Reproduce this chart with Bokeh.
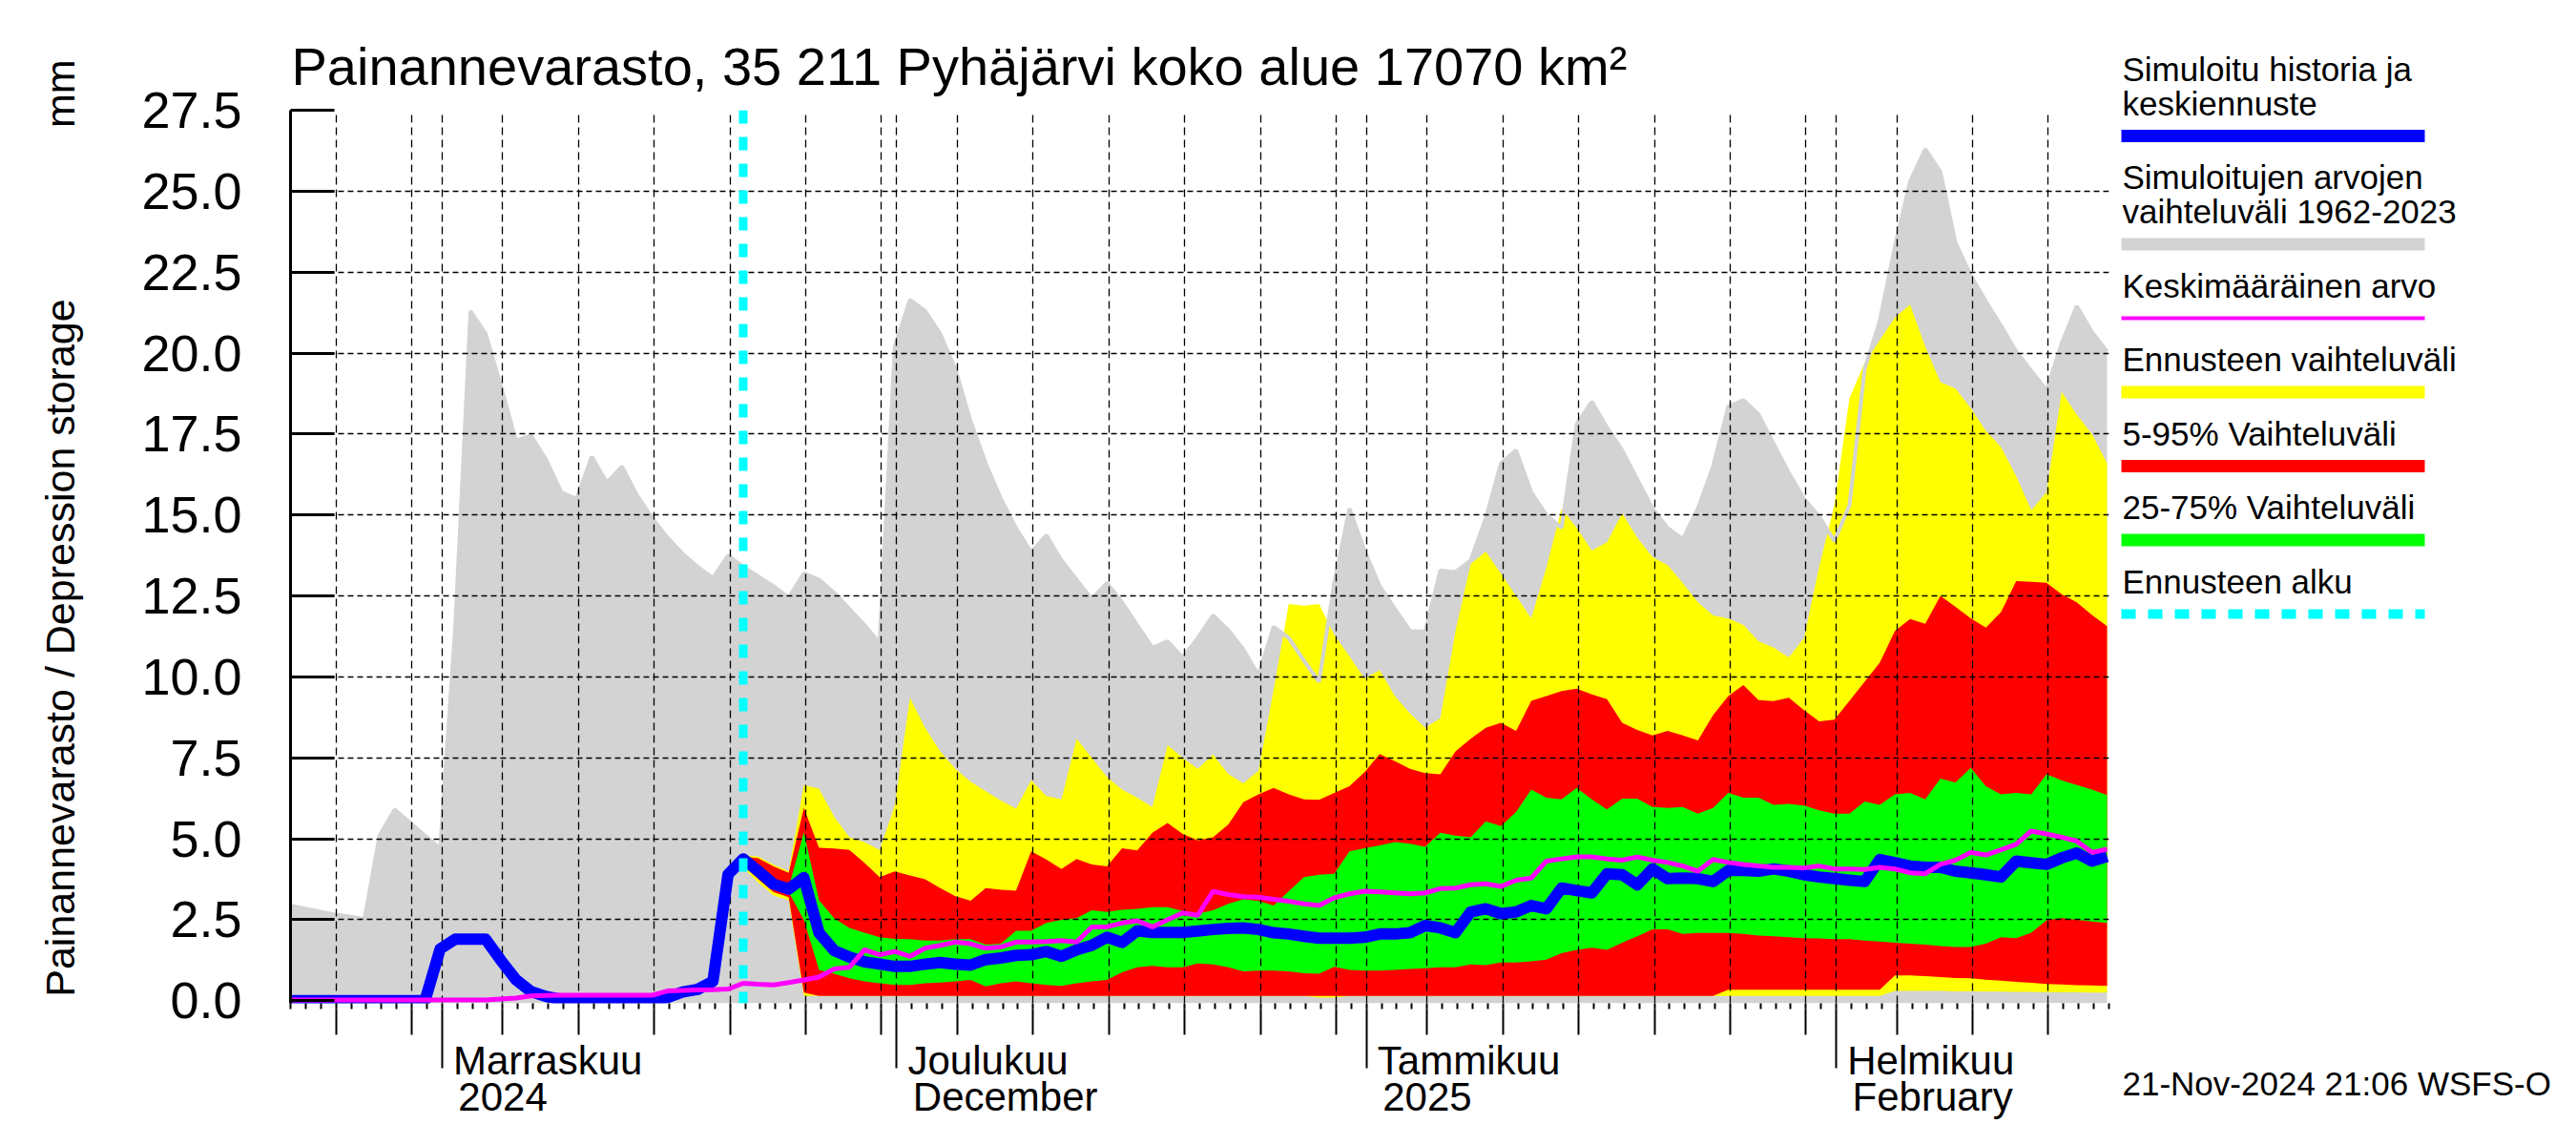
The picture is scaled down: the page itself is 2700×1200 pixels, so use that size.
import numpy as np
import pandas as pd
from bokeh.plotting import figure
from bokeh.models import (Range1d, FixedTicker, LinearAxis, Span,
                          NumeralTickFormatter, CustomJSTickFormatter)
from bokeh.layouts import row
from bokeh.embed import file_html
from bokeh.resources import INLINE
from bokeh.core.properties import value

FONT = "Liberation Sans"

# ---------------- data (daily values, 21:00 each day) ----------------
hist_start = "2024-10-21 21:00"      # first daily value of history series
forecast_start = "2024-11-20 21:00"  # first value of the ensemble forecast

# upper limit of simulated values 1962-2023 (grey band)
hist_max = [2.95, 2.85, 2.76, 2.67, 2.6, 2.52, 5.1, 5.9, 5.5, 5.1, 4.7,
            11.6, 21.3, 20.6, 19.0, 17.3, 17.45, 16.7, 15.7, 15.5, 16.8,
            16.0, 16.5, 15.6, 14.9, 14.3, 13.8, 13.4, 13.05, 13.75, 13.4,
            13.1, 12.8, 12.45, 13.2, 13.0, 12.6, 12.1, 11.6, 11.05, 20.2,
            21.65, 21.3, 20.6, 19.5, 17.9, 16.6, 15.5, 14.6, 13.85, 14.38,
            13.6, 13.0, 12.4, 12.9, 12.3, 11.6, 10.9, 11.1, 10.6, 11.2,
            11.9, 11.45, 10.85, 10.05, 11.55, 11.2, 10.5, 9.85, 12.9, 15.2,
            13.9, 12.8, 12.1, 11.42, 11.4, 13.28, 13.24, 13.6, 14.9, 16.6,
            17.0, 15.7, 15.0, 14.6, 17.8, 18.5, 17.7, 17.0, 16.1, 15.2,
            14.6, 14.25, 15.2, 16.5, 18.35, 18.55, 18.1, 17.2, 16.3, 15.5,
            14.95, 14.2, 15.3, 19.5, 21.0, 23.3, 25.3, 26.3, 25.6, 23.4,
            22.4, 21.6, 20.85, 20.05, 19.45, 18.85, 20.3, 21.45, 20.65, 20.05]

# simulated history and mean forecast (blue)
sim_mean = [0.0, 0.0, 0.0, 0.0, 0.0, 0.0, 0.0, 0.0, 0.0, 0.0,
            1.6, 1.9, 1.9, 1.9, 1.25, 0.65, 0.28, 0.13, 0.04, 0.0, 0.0,
            0.0, 0.0, 0.0, 0.0, 0.1, 0.27, 0.35, 0.6, 3.9, 4.38,
            4.0, 3.6, 3.45, 3.8, 2.1, 1.55, 1.35, 1.2, 1.13, 1.06,
            1.06, 1.13, 1.18, 1.13, 1.1, 1.27, 1.32, 1.4, 1.42, 1.52,
            1.37, 1.57, 1.71, 1.96, 1.8, 2.16, 2.11, 2.11, 2.11, 2.15,
            2.2, 2.23, 2.25, 2.2, 2.1, 2.06, 1.99, 1.93, 1.93, 1.93,
            1.96, 2.06, 2.06, 2.1, 2.32, 2.25, 2.1, 2.74, 2.84, 2.69,
            2.74, 2.94, 2.84, 3.48, 3.4, 3.33, 3.92, 3.89, 3.58, 4.07,
            3.77, 3.79, 3.77, 3.68, 4.02, 4.02, 4.0, 4.07, 4.0, 3.89,
            3.82, 3.77, 3.72, 3.68, 4.36, 4.26, 4.16, 4.12, 4.12, 4.0,
            3.95, 3.89, 3.82, 4.31, 4.26, 4.21, 4.41, 4.56, 4.31, 4.46]

# long-term mean (magenta)
clim_mean = [0.02, 0.02, 0.02, 0.02, 0.02, 0.02, 0.02, 0.02, 0.02, 0.02,
             0.02, 0.02, 0.02, 0.02, 0.05, 0.08, 0.15, 0.16, 0.17, 0.17, 0.17,
             0.17, 0.17, 0.17, 0.17, 0.3, 0.32, 0.33, 0.34, 0.36, 0.54,
             0.51, 0.49, 0.56, 0.64, 0.73, 0.98, 1.03, 1.57, 1.42, 1.52,
             1.37, 1.62, 1.71, 1.81, 1.76, 1.62, 1.66, 1.81, 1.81, 1.83,
             1.86, 1.81, 2.28, 2.28, 2.4, 2.47, 2.28, 2.5, 2.71, 2.64,
             3.38, 3.28, 3.21, 3.2, 3.13, 3.07, 2.99, 2.94, 3.18, 3.3,
             3.38, 3.36, 3.33, 3.3, 3.33, 3.46, 3.48, 3.58, 3.61, 3.53,
             3.72, 3.79, 4.31, 4.38, 4.44, 4.44, 4.38, 4.34, 4.44, 4.34,
             4.27, 4.16, 4.0, 4.36, 4.27, 4.21, 4.16, 4.12, 4.12, 4.1,
             4.16, 4.07, 4.07, 4.05, 4.12, 4.07, 3.95, 3.92, 4.21, 4.34,
             4.58, 4.5, 4.66, 4.83, 5.24, 5.15, 5.05, 4.93, 4.58, 4.68]

# ensemble forecast statistics, from forecast_start
ens_max = [4.5, 4.45, 4.2, 4.0, 6.66, 6.55, 5.68, 5.05, 4.9, 4.66,
           6.03, 9.36, 8.43, 7.7, 7.16, 6.76, 6.47, 6.18, 5.93, 6.81,
           6.32, 6.22, 8.09, 7.5, 6.91, 6.52, 6.27, 5.98, 7.89, 7.5,
           7.16, 7.6, 7.01, 6.71, 7.1, 9.6, 12.25, 12.2, 12.25, 11.3,
           10.64, 9.95, 10.2, 9.41, 8.87, 8.43, 8.72, 11.42, 13.48, 13.87,
           13.19, 12.5, 11.81, 13.38, 15.2, 14.6, 13.9, 14.16, 15.05, 14.3,
           13.7, 13.45, 12.9, 12.3, 11.9, 11.8, 11.6, 11.1, 10.9, 10.6,
           11.2, 13.4, 15.3, 18.6, 19.7, 20.4, 21.1, 21.5, 20.2, 19.1,
           18.9, 18.3, 17.6, 17.1, 16.2, 15.15, 15.7, 18.8, 18.1, 17.5, 16.6]
ens_p95 = [4.45, 4.4, 4.15, 3.95, 5.95, 4.72, 4.7, 4.66, 4.26, 3.82,
           3.99, 3.87, 3.75, 3.48, 3.23, 3.09, 3.48, 3.43, 3.4, 4.61,
           4.36, 4.07, 4.38, 4.21, 4.15, 4.71, 4.64, 5.19, 5.49, 5.15,
           4.95, 5.05, 5.44, 6.13, 6.37, 6.57, 6.37, 6.22, 6.2, 6.42,
           6.62, 7.06, 7.62, 7.4, 7.16, 7.03, 6.99, 7.7, 8.09, 8.43,
           8.58, 8.33, 9.26, 9.41, 9.56, 9.64, 9.46, 9.31, 8.58, 8.36,
           8.19, 8.33, 8.19, 8.04, 8.82, 9.41, 9.75, 9.28, 9.25, 9.36,
           8.97, 8.63, 8.68, 9.26, 9.85, 10.44, 11.42, 11.79, 11.64, 12.5,
           12.16, 11.81, 11.52, 12.0, 12.96, 12.94, 12.91, 12.55, 12.3, 11.91, 11.57]
ens_p75 = [4.45, 4.05, 3.65, 3.5, 5.2, 3.1, 2.55, 2.25, 2.1, 1.96,
           1.91, 1.9, 1.86, 1.86, 1.9, 1.9, 1.73, 1.76, 2.16, 2.16,
           2.4, 2.5, 2.55, 2.79, 2.74, 2.81, 2.84, 2.89, 2.89, 2.77,
           2.69, 2.79, 2.99, 3.13, 3.08, 2.94, 3.38, 3.82, 3.89, 3.92,
           4.61, 4.71, 4.8, 4.9, 4.85, 4.75, 5.19, 5.1, 5.05, 5.54,
           5.39, 5.83, 6.52, 6.27, 6.22, 6.57, 6.22, 5.91, 6.24, 6.24,
           5.98, 5.95, 5.98, 5.78, 5.95, 6.42, 6.27, 6.27, 6.05, 6.08,
           6.03, 5.88, 5.78, 5.78, 6.15, 6.05, 6.37, 6.42, 6.22, 6.86,
           6.74, 7.19, 6.62, 6.37, 6.42, 6.37, 6.99, 6.81, 6.66, 6.52, 6.35]
ens_p25 = [4.28, 3.9, 3.5, 3.35, 2.5, 0.95, 0.83, 0.69, 0.6, 0.54,
           0.49, 0.49, 0.54, 0.56, 0.6, 0.64, 0.44, 0.54, 0.6, 0.54,
           0.49, 0.46, 0.54, 0.6, 0.64, 0.88, 1.03, 1.08, 1.03, 1.03,
           1.15, 1.12, 1.03, 0.91, 0.93, 0.93, 0.91, 0.85, 0.83, 1.05,
           0.95, 0.93, 0.93, 0.95, 0.98, 1.0, 1.03, 1.03, 1.12, 1.1,
           1.18, 1.18, 1.22, 1.27, 1.47, 1.57, 1.64, 1.57, 1.79, 1.99,
           2.2, 2.2, 2.06, 2.09, 2.09, 2.09, 2.06, 2.01, 1.99, 1.96,
           1.93, 1.92, 1.9, 1.9, 1.86, 1.83, 1.79, 1.76, 1.73, 1.69,
           1.66, 1.66, 1.76, 1.96, 1.93, 2.1, 2.48, 2.55, 2.5, 2.45, 2.4]
ens_p05 = [4.2, 3.75, 3.35, 3.2, 0.25, 0.15, 0.15, 0.15, 0.15, 0.15,
           0.15, 0.15, 0.15, 0.15, 0.15, 0.15, 0.15, 0.15, 0.15, 0.15,
           0.15, 0.15, 0.15, 0.15, 0.15, 0.15, 0.15, 0.15, 0.15, 0.15,
           0.15, 0.15, 0.15, 0.15, 0.15, 0.15, 0.15, 0.15, 0.15, 0.15,
           0.15, 0.15, 0.15, 0.15, 0.15, 0.15, 0.15, 0.15, 0.15, 0.15,
           0.15, 0.15, 0.15, 0.15, 0.15, 0.15, 0.15, 0.15, 0.15, 0.15,
           0.15, 0.15, 0.15, 0.15, 0.15, 0.34, 0.34, 0.34, 0.34, 0.34,
           0.34, 0.34, 0.34, 0.34, 0.34, 0.34, 0.78, 0.78, 0.76, 0.73,
           0.7, 0.69, 0.65, 0.62, 0.58, 0.55, 0.52, 0.5, 0.48, 0.47, 0.46]
ens_min = [4.1, 3.65, 3.25, 3.1, 0.15, 0.15, 0.15, 0.15, 0.15, 0.15,
           0.15, 0.15, 0.15, 0.15, 0.15, 0.15, 0.15, 0.15, 0.15, 0.15,
           0.15, 0.15, 0.15, 0.15, 0.15, 0.15, 0.15, 0.15, 0.15, 0.15,
           0.15, 0.15, 0.15, 0.15, 0.15, 0.15, 0.15, 0.15, 0.1, 0.1,
           0.15, 0.15, 0.15, 0.15, 0.15, 0.15, 0.15, 0.15, 0.15, 0.15,
           0.15, 0.15, 0.15, 0.15, 0.15, 0.15, 0.15, 0.15, 0.15, 0.15,
           0.15, 0.15, 0.15, 0.15, 0.15, 0.15, 0.15, 0.15, 0.15, 0.15,
           0.15, 0.15, 0.15, 0.15, 0.15, 0.15, 0.3, 0.3, 0.3, 0.3,
           0.29, 0.29, 0.28, 0.28, 0.27, 0.27, 0.26, 0.26, 0.26, 0.25, 0.25]

y_ticks = [0.0, 2.5, 5.0, 7.5, 10.0, 12.5, 15.0, 17.5, 20.0, 22.5, 25.0, 27.5]
month_starts = ["2024-11-01", "2024-12-01", "2025-01-01", "2025-02-01"]
month_line1 = ["Marraskuu", "Joulukuu", "Tammikuu", "Helmikuu"]
month_line2 = ["2024", "December", "2025", "February"]
axis_start, axis_end = "2024-10-22", "2025-02-19"

title_text = "Painannevarasto, 35 211 Pyhäjärvi koko alue 17070 km²"
NB = "\u00a0"
ylabel_text = NB * 5 + "Painannevarasto / Depression storage" + NB * 15 + "mm"
stamp_text = "21-Nov-2024 21:06 WSFS-O"
legend_texts = [["Simuloitu historia ja", "keskiennuste"],
                ["Simuloitujen arvojen", "vaihteluväli 1962-2023"],
                ["Keskimääräinen arvo"],
                ["Ennusteen vaihteluväli"],
                ["5-95% Vaihteluväli"],
                ["25-75% Vaihteluväli"],
                ["Ennusteen alku"]]

C_GREY, C_YEL, C_RED, C_GRN = "#d3d3d3", "#ffff00", "#ff0000", "#00ff00"
C_BLUE, C_MAG, C_CYAN = "#0000ff", "#ff00ff", "#00ffff"
legend_colors = [C_BLUE, C_GREY, C_MAG, C_YEL, C_RED, C_GRN, C_CYAN]
legend_widths = [13, 13, 4, 13, 13, 13, 10]
legend_dashes = ["solid"] * 6 + ["15 13"]

# Arial/Liberation advance widths (em) for centring the second label line
ADV = {"0": .556, "2": .556, "4": .556, "5": .556, "D": .722, "F": .611, "e": .556,
       "c": .5, "m": .833, "b": .556, "r": .333, "u": .556, "a": .556, "y": .5}


def text_w(s, size):
    return sum(ADV.get(ch, .556) for ch in s) * size


def ms(s):
    return int(pd.Timestamp(s).value // 10**6)


t_hist = pd.date_range(hist_start, periods=len(hist_max), freq="D")
t_ens = pd.date_range(forecast_start, periods=len(ens_max), freq="D")

PAGE_W, PAGE_H = 2700, 1200
MAIN_W = 2218
FRAME_L, FRAME_T, FRAME_W, FRAME_H = 304, 115, 1906, 936
Y0, Y1 = -0.08, 27.5
p = figure(width=MAIN_W, height=PAGE_H, x_axis_type="datetime",
           x_range=Range1d(ms(axis_start), ms(axis_end)),
           y_range=Range1d(Y0, Y1),
           output_backend="svg", toolbar_location=None, title=title_text,
           min_border_left=FRAME_L, min_border_right=MAIN_W - FRAME_L - FRAME_W,
           min_border_top=FRAME_T, min_border_bottom=PAGE_H - FRAME_T - FRAME_H)
p.outline_line_color = None
p.background_fill_color = "white"
p.border_fill_color = "white"
p.title.text_font = FONT
p.title.text_font_size = "56px"
p.title.text_font_style = "normal"
p.title.text_color = "black"
p.title.align = "left"
p.title.offset = 1
p.title.standoff = 29

# ticks
days = pd.date_range(axis_start, axis_end, freq="D")
day_ticks = [ms(d) for d in days]
five_ticks = [ms(d) for d in days if d.day in (5, 10, 15, 20, 25, 30)]
month_ticks = [ms(m) for m in month_starts]
ms_per_px = (ms(axis_end) - ms(axis_start)) / FRAME_W

# inner x axis: daily ticks only
xa = p.xaxis[0]
xa.ticker = FixedTicker(ticks=[], minor_ticks=day_ticks)
xa.major_tick_out = 6
xa.major_tick_in = 0
xa.minor_tick_out = 6
xa.minor_tick_in = 0
xa.minor_tick_line_width = 2
xa.minor_tick_line_color = "black"
xa.axis_line_color = None
xa.major_label_standoff = 0

# middle x axis: months (long) and 5-day ticks, with first label line
xb = LinearAxis(ticker=FixedTicker(ticks=month_ticks, minor_ticks=five_ticks))
xb.formatter = CustomJSTickFormatter(args=dict(labels=[NB + s for s in month_line1]),
                                     code="return labels[index];")
xb.major_tick_out = 62
xb.major_tick_in = 0
xb.minor_tick_out = 27
xb.minor_tick_in = 0
xb.major_tick_line_width = 2
xb.minor_tick_line_width = 2
xb.axis_line_color = None
xb.major_label_text_font = FONT
xb.major_label_text_font_size = "42px"
xb.major_label_text_color = "black"
xb.major_label_orientation = -0.0001
xb.major_label_standoff = -8
p.add_layout(xb, "below")

# outer x axis: second label line (no tick marks)
line2_ticks = [ms(m) + (17 + text_w(s, 42) / 2) * ms_per_px
               for m, s in zip(month_starts, month_line2)]
xc = LinearAxis(ticker=FixedTicker(ticks=line2_ticks, minor_ticks=[]))
xc.formatter = CustomJSTickFormatter(args=dict(labels=month_line2),
                                     code="return labels[index];")
xc.major_tick_out = 0
xc.major_tick_in = 0
xc.major_tick_line_color = None
xc.minor_tick_line_color = None
xc.axis_line_color = None
xc.major_label_text_font = FONT
xc.major_label_text_font_size = "42px"
xc.major_label_text_color = "black"
xc.major_label_standoff = -36
p.add_layout(xc, "below")

ya = p.yaxis[0]
ya.ticker = FixedTicker(ticks=y_ticks, minor_ticks=[])
ya.formatter = NumeralTickFormatter(format="0.0")
ya.major_tick_in = 46
ya.major_tick_out = 0
ya.major_tick_line_width = 3
ya.axis_line_width = 3
ya.minor_tick_line_color = None
ya.major_label_text_font = FONT
ya.major_label_text_font_size = "54px"
ya.major_label_text_color = "black"
ya.major_label_standoff = 51
ya.axis_label = ylabel_text
ya.axis_label_text_font = FONT
ya.axis_label_text_font_size = "43px"
ya.axis_label_text_font_style = "normal"
ya.axis_label_text_color = "black"
ya.axis_label_standoff = 58

p.xgrid.ticker = FixedTicker(ticks=five_ticks + month_ticks)
p.xgrid.grid_line_color = "black"
p.xgrid.grid_line_dash = "8 5"
p.xgrid.grid_line_width = 1.3
p.ygrid.ticker = FixedTicker(ticks=y_ticks[1:])
p.ygrid.grid_line_color = "black"
p.ygrid.grid_line_dash = "6 4"
p.ygrid.grid_line_width = 1.5

# bands
p.varea(x=t_hist, y1=[Y0] * len(hist_max), y2=hist_max, fill_color=C_GREY, level="image")
p.varea(x=t_ens, y1=ens_min, y2=ens_max, fill_color=C_YEL, level="image")
p.line(x=t_hist, y=hist_max, line_color=C_GREY, line_width=4, level="image")
p.varea(x=t_ens, y1=ens_p05, y2=ens_p95, fill_color=C_RED, level="image")
p.varea(x=t_ens, y1=ens_p25, y2=ens_p75, fill_color=C_GRN, level="image")
p.line(x=t_hist, y=sim_mean, line_color=C_BLUE, line_width=12, line_join="round")
p.line(x=t_hist, y=clim_mean, line_color=C_MAG, line_width=5)
p.add_layout(Span(location=ms(forecast_start), dimension="height",
                  line_color=C_CYAN, line_width=9, line_dash="14 14"))

# legend panel (coordinates: page pixels, y measured upward from page bottom)
LW = PAGE_W - MAIN_W
q = figure(width=LW, height=PAGE_H, x_range=Range1d(0, LW), y_range=Range1d(0, PAGE_H),
           x_axis_type=None, y_axis_type=None, output_backend="svg",
           toolbar_location=None, title=None, min_border=0)
q.outline_line_color = None
q.background_fill_color = "white"
q.border_fill_color = "white"
for fig in (p, q):
    if "frame_align" in fig.properties():
        fig.frame_align = False

TXT_SHIFT = 12      # text sits a little above its nominal baseline
yb = 84.0           # first baseline (page y from top)
tx, ty, tl = [], [], []
for lines, col, w, dsh in zip(legend_texts, legend_colors, legend_widths, legend_dashes):
    for i, ln in enumerate(lines):
        tx.append(6)
        ty.append(PAGE_H - (yb + i * 35.8) + TXT_SHIFT)
        tl.append(ln)
    bar_y = yb + (len(lines) - 1) * 35.8 + 22.3
    q.line(x=[5, 323], y=[PAGE_H - bar_y, PAGE_H - bar_y], line_color=col, line_width=w,
           line_dash=dsh, line_cap="butt")
    yb = bar_y + 55.2
tx.append(6)
ty.append(PAGE_H - 1144.5 + 10)
tl.append(stamp_text)
q.text(x=tx, y=ty, text=tl, text_font=value(FONT), text_font_size="35px",
       text_baseline="alphabetic", text_align="left", text_color="black")

layout = row(p, q)
open("out.html", "w").write(file_html(layout, INLINE))
